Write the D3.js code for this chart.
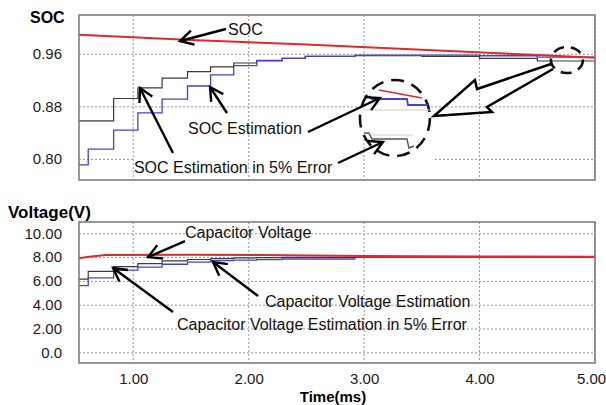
<!DOCTYPE html>
<html lang="en">
<head>
    <meta charset="UTF-8">
    <title>SOC and capacitor voltage</title>
    <style>
        body { margin: 0; background: #fff; }
        svg { display: block; font-family: "Liberation Sans", Arial, sans-serif; }
    </style>
</head>
<body>
    <div class="canvas"></div>

    <script src="https://cdnjs.cloudflare.com/ajax/libs/d3/7.8.5/d3.min.js"></script>

    <script>
        // ticks
        const timeTicks = [1, 2, 3, 4, 5];
        const socTicks = [0.80, 0.88, 0.96];
        const voltTicks = [0, 2, 4, 6, 8, 10];

        // true SOC (red)
        const socTime = [0.53, 1.5, 2.5, 3.5, 4.5, 5.0];
        const socTrue = [0.989, 0.981, 0.974, 0.966, 0.958, 0.954];

        // step times shared by the estimations
        const estTime = [0.53, 0.61, 0.83, 1.04, 1.25, 1.47, 1.67, 1.87, 2.07, 2.29, 2.49, 2.92, 3.5, 4.0, 4.5, 5.0];
        const socEst  = [0.791, 0.815, 0.844, 0.870, 0.891, 0.911, 0.928, 0.942, 0.950, 0.953, 0.956, 0.958, 0.958, 0.957, 0.955, 0.953];
        const socEst5 = [0.858, 0.858, 0.892, 0.908, 0.923, 0.933, 0.940, 0.946, 0.949, 0.953, 0.956, 0.957, 0.956, 0.953, 0.949, 0.945];

        // capacitor voltage
        const voltTime = [0.53, 0.6, 0.76, 1.5, 2.1, 3.0, 4.0, 5.0];
        const capV = [7.9, 8.0, 8.18, 8.2, 8.18, 8.1, 8.05, 8.02];
        const capEst  = [5.6, 6.25, 6.9, 7.15, 7.4, 7.58, 7.7, 7.75, 7.78, 7.84, 7.84, 8.0, 8.0, 8.0, 8.0, 8.0];
        const capEst5 = [6.15, 6.8, 7.2, 7.45, 7.68, 7.8, 7.88, 7.93, 7.95, 7.97, 7.98, 8.0, 8.0, 8.0, 8.0, 8.0];

        // annotations, in data units: [label, t, value] and arrows [t1, v1, t2, v2]
        const socLabels = [
            ["SOC", 1.821, 0.9892],
            ["SOC Estimation", 1.474, 0.8386],
            ["SOC Estimation in 5% Error", 1.006, 0.7793]
        ];
        const socArrows = [
            [1.803, 0.9977, 1.405, 0.9794],
            [1.812, 0.8699, 1.665, 0.9095],
            [2.514, 0.841, 3.137, 0.8927],
            [1.344, 0.8091, 1.058, 0.908],
            [2.774, 0.7939, 3.163, 0.8258]
        ];
        const voltLabels = [
            ["Capacitor Voltage", 1.448, 9.58],
            ["Capacitor Voltage Estimation", 2.141, 3.78],
            ["Capacitor Voltage Estimation in 5% Error", 1.379, 1.87]
        ];
        const voltArrows = [
            [1.448, 9.35, 1.128, 8.0],
            [2.081, 4.73, 1.691, 7.59],
            [1.344, 3.39, 0.825, 7.087]
        ];
        // zoom callout
        const bigCircle = [3.267, 0.8623];
        const smallCircle = [4.757, 0.9505];
        const blockArrow = [
            [4.619, 0.9445], [3.978, 0.9064], [3.96, 0.92], [3.605, 0.8654],
            [4.108, 0.8714], [4.064, 0.879], [4.636, 0.9369]
        ];

        const W = 606, H = 405;
        const svg = d3.select(".canvas").append("svg")
            .attr("width", W)
            .attr("height", H);

        const x = d3.scaleLinear().domain([0.53, 5.0]).range([79, 595]);
        const ySoc = d3.scaleLinear().domain([0.768, 1.019]).range([180, 15]);
        const yVolt = d3.scaleLinear().domain([-0.9, 10.95]).range([363, 222]);

        const red = "#e02a2a", blue = "#4444c8", dark = "#3a3a3a";

        function panel(y, ticks, fmt, id) {
            const y0 = y.range()[1], y1 = y.range()[0];
            const g = svg.append("g");

            svg.append("clipPath").attr("id", id)
                .append("rect")
                .attr("x", x.range()[0]).attr("y", y0)
                .attr("width", x.range()[1] - x.range()[0]).attr("height", y1 - y0);

            const ya = g.append("g")
                .attr("transform", `translate(${x.range()[0]},0)`)
                .call(d3.axisLeft(y).tickValues(ticks).tickFormat(fmt)
                    .tickSize(-(x.range()[1] - x.range()[0])).tickPadding(17));
            ya.select(".domain").remove();
            ya.selectAll("line").attr("stroke", "#999").attr("stroke-dasharray", "2,2");
            ya.selectAll("text").attr("font-size", 15).attr("fill", "#1a1a1a")
                .attr("font-family", "Liberation Sans, Arial, sans-serif");
            return g;
        }

        function vgrid(g, y) {
            g.append("g").selectAll("line")
                .data(timeTicks)
                .join("line")
                    .attr("x1", d => x(d)).attr("x2", d => x(d))
                    .attr("y1", y.range()[1]).attr("y2", y.range()[0])
                    .attr("stroke", "#999")
                    .attr("stroke-dasharray", "2,2");
        }

        function frame(g, y) {
            g.append("rect")
                .attr("x", x.range()[0]).attr("y", y.range()[1])
                .attr("width", x.range()[1] - x.range()[0])
                .attr("height", y.range()[0] - y.range()[1])
                .attr("fill", "none")
                .attr("stroke", "#777")
                .attr("stroke-width", 1.5);
        }

        function series(g, y, ts, vs, color, width, curve, clip) {
            const line = d3.line()
                .x(d => x(d[0]))
                .y(d => y(d[1]))
                .curve(curve);
            g.append("path")
                .datum(ts.map((t, i) => [t, vs[i]]))
                .attr("d", line)
                .attr("fill", "none")
                .attr("stroke", color)
                .attr("stroke-width", width)
                .attr("clip-path", `url(#${clip})`);
        }

        function arrows(g, y, list) {
            list.forEach(a => {
                const x1 = x(a[0]), y1 = y(a[1]), x2 = x(a[2]), y2 = y(a[3]);
                const ang = Math.atan2(y1 - y2, x1 - x2);
                const len = 15, spread = 0.5;
                g.append("line")
                    .attr("x1", x1).attr("y1", y1).attr("x2", x2).attr("y2", y2)
                    .attr("stroke", "#000").attr("stroke-width", 2.4);
                g.append("path")
                    .attr("d", `M${x2 + len * Math.cos(ang - spread)},${y2 + len * Math.sin(ang - spread)}
                        L${x2},${y2} L${x2 + len * Math.cos(ang + spread)},${y2 + len * Math.sin(ang + spread)}`)
                    .attr("fill", "none").attr("stroke", "#000").attr("stroke-width", 2.4);
            });
        }

        function labels(g, y, list) {
            g.selectAll(null)
                .data(list)
                .join("text")
                    .attr("x", d => x(d[1]))
                    .attr("y", d => y(d[2]))
                    .attr("font-size", 16)
                    .attr("fill", "#111")
                    .text(d => d[0]);
        }

        // ---- top panel: SOC
        const socG = panel(ySoc, socTicks, d3.format(".2f"), "clipSoc");
        // white box behind the lower label
        socG.append("rect")
            .attr("x", x(1.006) - 1).attr("y", ySoc(0.80) - 2)
            .attr("width", 300).attr("height", 18)
            .attr("fill", "#fff");
        vgrid(socG, ySoc);
        series(socG, ySoc, estTime, socEst5, dark, 1.2, d3.curveStepAfter, "clipSoc");
        series(socG, ySoc, estTime, socEst, blue, 1.3, d3.curveStepAfter, "clipSoc");
        series(socG, ySoc, socTime, socTrue, red, 2, d3.curveLinear, "clipSoc");
        frame(socG, ySoc);

        // callout circles
        const bc = [x(bigCircle[0]), ySoc(bigCircle[1])];
        socG.append("ellipse")
            .attr("cx", bc[0]).attr("cy", bc[1]).attr("rx", 35).attr("ry", 38)
            .attr("fill", "#fff").attr("stroke", "#111").attr("stroke-width", 2.6)
            .attr("stroke-dasharray", "13,8");
        // zoomed bits inside the big circle
        const inset = socG.append("g").attr("transform", `translate(${bc[0]},${bc[1]})`);
        inset.append("path").attr("d", "M-32,-8 L36,-8 M-24,17 L18,17")
            .attr("stroke", "#ccc").attr("fill", "none");
        inset.append("path").attr("d", "M-16,-28 L27,-20")
            .attr("stroke", red).attr("stroke-width", 1.6).attr("fill", "none");
        inset.append("path").attr("d", "M-26,-22 L-23,-19 L12,-19 L13,-13 L33,-13")
            .attr("stroke", blue).attr("stroke-width", 1.8).attr("fill", "none");
        inset.append("path").attr("d", "M-31,15 L-26,15 L-23,21 L12,21 L14,30 L19,28")
            .attr("stroke", "#555").attr("stroke-width", 1.4).attr("fill", "none");

        socG.append("ellipse")
            .attr("cx", x(smallCircle[0])).attr("cy", ySoc(smallCircle[1]))
            .attr("rx", 16).attr("ry", 13)
            .attr("fill", "none").attr("stroke", "#111").attr("stroke-width", 2.6)
            .attr("stroke-dasharray", "11,7");

        socG.append("path")
            .datum(blockArrow)
            .attr("d", d3.line().x(d => x(d[0])).y(d => ySoc(d[1])))
            .attr("fill", "none").attr("stroke", "#000").attr("stroke-width", 2.5)
            .attr("stroke-linejoin", "miter");

        labels(socG, ySoc, socLabels);
        arrows(socG, ySoc, socArrows);

        svg.append("text")
            .attr("x", 30).attr("y", 23)
            .attr("font-size", 16).attr("font-weight", "bold")
            .text("SOC");

        // ---- bottom panel: voltage
        const voltG = panel(yVolt, voltTicks, d => d === 0 ? "0.0" : d3.format(".2f")(d), "clipVolt");
        vgrid(voltG, yVolt);
        series(voltG, yVolt, estTime, capEst5, dark, 1.2, d3.curveStepAfter, "clipVolt");
        series(voltG, yVolt, estTime, capEst, blue, 1.3, d3.curveStepAfter, "clipVolt");
        series(voltG, yVolt, voltTime, capV, red, 2, d3.curveLinear, "clipVolt");
        frame(voltG, yVolt);
        labels(voltG, yVolt, voltLabels);
        arrows(voltG, yVolt, voltArrows);

        const xa = voltG.append("g")
            .attr("transform", `translate(0,${yVolt.range()[0]})`)
            .call(d3.axisBottom(x).tickValues(timeTicks).tickFormat(d3.format(".2f"))
                .tickSize(0).tickPadding(10));
        xa.select(".domain").remove();
        xa.selectAll("text").attr("font-size", 15).attr("fill", "#1a1a1a")
            .attr("font-family", "Liberation Sans, Arial, sans-serif");
        xa.selectAll("text").filter(d => d === 5).attr("dx", -4);

        svg.append("text")
            .attr("x", 333).attr("y", 401.5)
            .attr("text-anchor", "middle")
            .attr("font-size", 15).attr("font-weight", "bold")
            .text("Time(ms)");

        svg.append("text")
            .attr("x", 8).attr("y", 218)
            .attr("font-size", 17).attr("font-weight", "bold")
            .text("Voltage(V)");
    </script>
</body>
</html>
